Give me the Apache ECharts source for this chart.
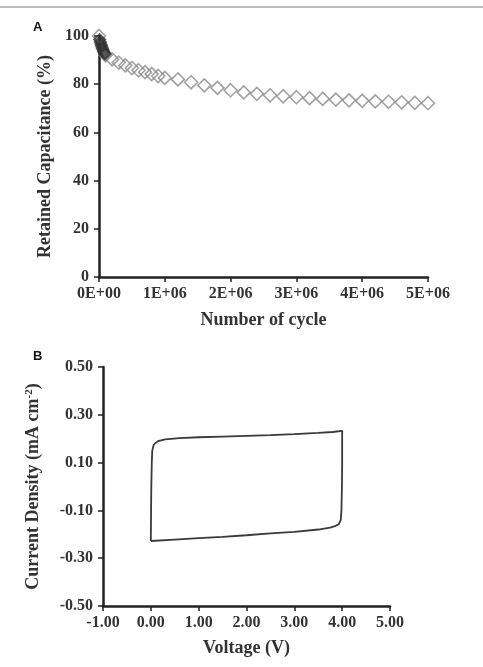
<!DOCTYPE html>
<html>
<head>
<meta charset="utf-8">
<script src="https://cdn.jsdelivr.net/npm/echarts@6/dist/echarts.min.js"></script>
<style>
  html, body { margin: 0; padding: 0; background: #fff; }
  #chart { width: 483px; height: 667px; }
</style>
</head>
<body>
<div id="chart"></div>
<script>
// panel A: retained capacitance vs. cycle number
var earlyCycles = [1e4, 2e4, 3e4, 4e4, 5e4, 6e4, 7e4, 8e4, 9e4];
var earlyRetained = [98.5, 97.5, 96.6, 95.8, 95.0, 94.3, 93.6, 93.0, 92.5];
var cycles = [0, 1e5, 2e5, 3e5, 4e5, 5e5, 6e5, 7e5, 8e5, 9e5, 1e6,
  1.2e6, 1.4e6, 1.6e6, 1.8e6, 2e6, 2.2e6, 2.4e6, 2.6e6, 2.8e6, 3e6,
  3.2e6, 3.4e6, 3.6e6, 3.8e6, 4e6, 4.2e6, 4.4e6, 4.6e6, 4.8e6, 5e6];
var retained = [100, 92.0, 90.3, 89.0, 87.8, 86.7, 85.8, 85.0, 84.2, 83.4, 82.6,
  82.0, 80.8, 79.5, 78.5, 77.5, 76.6, 76.0, 75.4, 75.0, 74.6,
  74.2, 73.9, 73.6, 73.3, 73.1, 72.9, 72.7, 72.5, 72.3, 72.1];

// panel B: cyclic voltammogram (one closed loop)
var voltage = [0.0, 0.005, 0.01, 0.02, 0.03, 0.06, 0.15, 0.3, 0.6, 1.0, 1.5, 2.0, 2.5, 3.0, 3.5, 3.8, 4.0,
  4.0, 3.995, 3.985, 3.97, 3.93, 3.85, 3.75, 3.5, 3.0, 2.5, 2.0, 1.5, 1.0, 0.5, 0.0];
var current = [-0.228, -0.1, 0.0, 0.1, 0.15, 0.175, 0.19, 0.197, 0.202, 0.206, 0.209, 0.212, 0.215, 0.219, 0.224, 0.228, 0.233,
  0.1, 0.0, -0.1, -0.14, -0.158, -0.166, -0.172, -0.18, -0.19, -0.196, -0.204, -0.211, -0.216, -0.222, -0.228];
var currentTicks = [-0.5, -0.3, -0.1, 0.1, 0.3, 0.5];

var serif = 'Liberation Serif';
var ink = '#333';

function sciLabel(v) {
  if (v === 0) return '0E+00';
  var e = Math.floor(Math.log10(v));
  var m = Math.round(v / Math.pow(10, e));
  return m + 'E+' + (e < 10 ? '0' + e : e);
}

function zip(a, b) {
  return a.map(function (x, i) { return [x, b[i]]; });
}

var tickLabel = { color: ink, fontFamily: serif, fontWeight: 'bold', fontSize: 16 };
var titleText = { color: ink, fontFamily: serif, fontWeight: 'bold', fontSize: 18 };
var axisLine = { show: true, onZero: false, lineStyle: { color: '#222', width: 2.5 } };
var axisTick = { show: true, length: 5, lineStyle: { color: '#222', width: 1.5 } };

var chart = echarts.init(document.getElementById('chart'));
chart.setOption({
  animation: false,
  backgroundColor: '#fff',
  graphic: [
    { type: 'line', shape: { x1: 0, y1: 7, x2: 483, y2: 7 }, style: { stroke: '#777', lineWidth: 1 } },
    { type: 'text', left: 33, top: 21, style: { text: 'A', font: 'bold 13px Liberation Sans', fill: '#111' } },
    { type: 'text', left: 33, top: 350, style: { text: 'B', font: 'bold 13px Liberation Sans', fill: '#111' } }
  ],
  grid: [
    { left: 99, right: 55, top: 36, bottom: 390 },
    { left: 103, right: 93, top: 367, bottom: 61 }
  ],
  xAxis: [
    {
      gridIndex: 0, type: 'value', min: 0, max: 5e6, interval: 1e6,
      name: 'Number of cycle', nameLocation: 'middle', nameGap: 34, nameTextStyle: titleText,
      axisLine: axisLine, axisTick: axisTick, splitLine: { show: false },
      axisLabel: Object.assign({ margin: 9, formatter: sciLabel }, tickLabel)
    },
    {
      gridIndex: 1, type: 'value', min: -1, max: 5, interval: 1,
      name: 'Voltage (V)', nameLocation: 'middle', nameGap: 33, nameTextStyle: titleText,
      axisLine: axisLine, axisTick: axisTick, splitLine: { show: false },
      axisLabel: Object.assign({ margin: 9, formatter: function (v) { return v.toFixed(2); } }, tickLabel)
    }
  ],
  yAxis: [
    {
      gridIndex: 0, type: 'value', min: 0, max: 100, interval: 20,
      name: 'Retained Capacitance (%)', nameLocation: 'middle', nameGap: 45, nameTextStyle: titleText,
      axisLine: axisLine, axisTick: axisTick, splitLine: { show: false },
      axisLabel: Object.assign({ margin: 10 }, tickLabel)
    },
    {
      gridIndex: 1, type: 'value', min: -0.5, max: 0.5,
      name: '{t|Current Density (mA cm}{s|-2}{t|)}', nameLocation: 'middle', nameGap: 60,
      nameTextStyle: {
        rich: {
          t: titleText,
          s: { color: ink, fontFamily: serif, fontWeight: 'bold', fontSize: 11, verticalAlign: 'top', padding: [0, 0, 8, 0] }
        }
      },
      axisLine: axisLine,
      axisTick: Object.assign({ customValues: currentTicks }, axisTick),
      splitLine: { show: false },
      axisLabel: Object.assign({ margin: 10, customValues: currentTicks, formatter: function (v) { return v.toFixed(2); } }, tickLabel)
    }
  ],
  series: [
    {
      type: 'scatter', xAxisIndex: 0, yAxisIndex: 0, clip: false,
      symbol: 'diamond', symbolSize: 13,
      itemStyle: { color: 'transparent', borderColor: '#8a8a8a', borderWidth: 1.6 },
      data: zip(cycles, retained)
    },
    {
      type: 'scatter', xAxisIndex: 0, yAxisIndex: 0, clip: false,
      symbol: 'diamond', symbolSize: 11,
      itemStyle: { color: 'transparent', borderColor: '#333', borderWidth: 2 },
      data: zip(earlyCycles, earlyRetained)
    },
    {
      type: 'line', xAxisIndex: 1, yAxisIndex: 1, showSymbol: false, smooth: false,
      lineStyle: { color: '#3a3a3a', width: 1.8 },
      data: zip(voltage, current)
    }
  ]
});
</script>
</body>
</html>
